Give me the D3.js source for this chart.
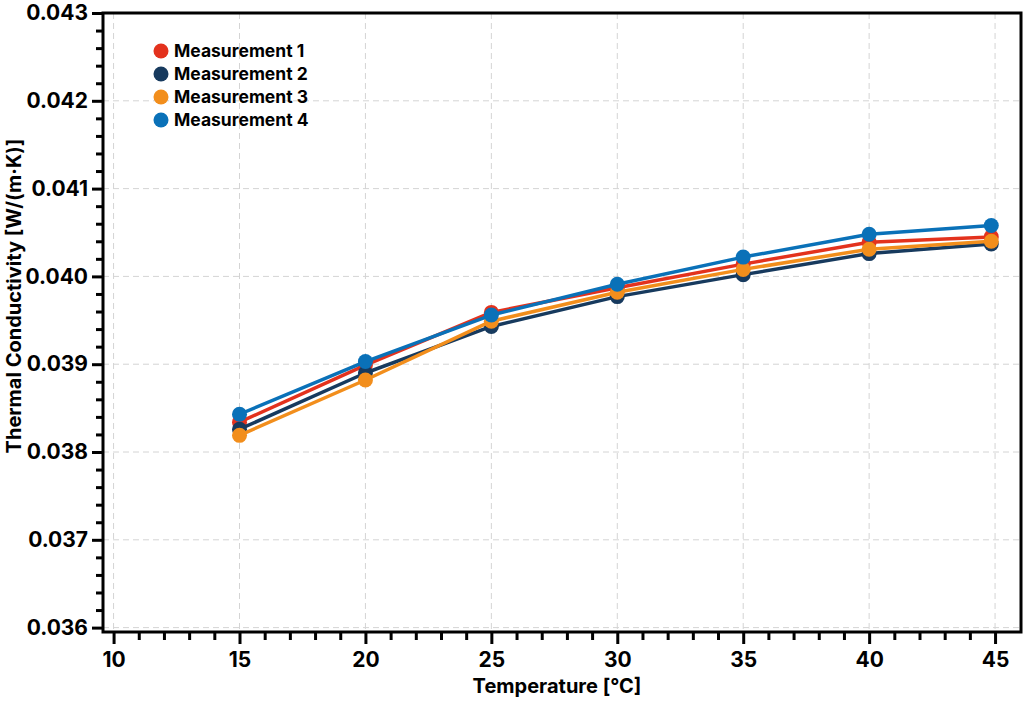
<!DOCTYPE html>
<html>
<head>
<meta charset="utf-8">
<script src="https://cdn.jsdelivr.net/npm/d3@7"></script>
<style>
  html, body { margin: 0; padding: 0; background: #fff; }
  svg { display: block; }
  text { font-family: "Inter", "DejaVu Sans", sans-serif; font-weight: 700; fill: #000; }
</style>
</head>
<body>
<svg id="chart" width="1024" height="703"></svg>
<script>
// ---- data ----
const temperatures = [15, 20, 25, 30, 35, 40, 44.85];
const seriesNames = ["Measurement 1", "Measurement 2", "Measurement 3", "Measurement 4"];
const measurement1 = [0.03834, 0.03899, 0.03959, 0.03987, 0.04014, 0.04039, 0.04045];
const measurement2 = [0.03826, 0.03890, 0.03943, 0.03977, 0.04002, 0.04026, 0.04037];
const measurement3 = [0.03819, 0.03882, 0.03949, 0.03982, 0.04008, 0.04031, 0.04040];
const measurement4 = [0.03843, 0.03903, 0.03956, 0.03991, 0.04022, 0.04048, 0.04058];
const seriesColors = ["#E3321D", "#173A5E", "#F28E1C", "#0A71B8"];
const xTicks = [10, 15, 20, 25, 30, 35, 40, 45];
const yTicks = [0.036, 0.037, 0.038, 0.039, 0.040, 0.041, 0.042, 0.043];
const xLabel = "Temperature [°C]";
const yLabel = "Thermal Conductivity [W/(m·K)]";

const seriesValues = [measurement1, measurement2, measurement3, measurement4];

const svg = d3.select("#chart");
const L = 103, R = 1021, T = 13, B = 632;

const x = d3.scaleLinear().domain([9.58, 46.03]).range([L, R]);
const y = d3.scaleLinear().domain([0.03595, 0.043]).range([B, T]);

// grid
const grid = svg.append("g");
grid.selectAll("line.gx").data(xTicks).join("line")
  .attr("x1", d => x(d)).attr("x2", d => x(d))
  .attr("y1", T).attr("y2", B)
  .attr("stroke", "#d4d4d4").attr("stroke-width", 1).attr("stroke-dasharray", "6,4");
grid.selectAll("line.gy").data(yTicks).join("line")
  .attr("x1", L).attr("x2", R)
  .attr("y1", d => y(d)).attr("y2", d => y(d))
  .attr("stroke", "#d4d4d4").attr("stroke-width", 1).attr("stroke-dasharray", "6,4");

// minor ticks
const xMinor = d3.range(10, 46, 1).filter(v => v % 5 !== 0);
const yMinor = d3.range(0, 36).map(i => 0.036 + i * 0.0002).filter((v, i) => i % 5 !== 0);

const xAxisMinor = d3.axisBottom(x).tickValues(xMinor).tickSize(8).tickFormat("");
const xAxis = d3.axisBottom(x).tickValues(xTicks).tickSize(12).tickPadding(8).tickFormat(d3.format("d"));
const yAxisMinor = d3.axisLeft(y).tickValues(yMinor).tickSize(7).tickFormat("");
const yAxis = d3.axisLeft(y).tickValues(yTicks).tickSize(11).tickPadding(4).tickFormat(d3.format(".3f"));

function styleAxis(g) {
  g.select(".domain").remove();
  g.selectAll(".tick line").attr("stroke", "#000").attr("stroke-width", 3);
  g.selectAll(".tick text").style("font-size", "21px").style("font-family", "Inter, sans-serif").style("font-weight", 700).attr("fill", "#000");
}
svg.append("g").attr("transform", `translate(0,${B})`).call(xAxisMinor).call(styleAxis);
svg.append("g").attr("transform", `translate(0,${B})`).call(xAxis).call(styleAxis);
svg.append("g").attr("transform", `translate(${L},0)`).call(yAxisMinor).call(styleAxis);
svg.append("g").attr("transform", `translate(${L},0)`).call(yAxis).call(styleAxis);

// frame
svg.append("rect").attr("x", L).attr("y", T).attr("width", R - L).attr("height", B - T)
  .attr("fill", "none").attr("stroke", "#000").attr("stroke-width", 3);

// series
const line = d3.line().x((d, i) => x(temperatures[i])).y(d => y(d));
seriesValues.forEach((vals, si) => {
  const g = svg.append("g");
  g.append("path").datum(vals).attr("d", line)
    .attr("fill", "none").attr("stroke", seriesColors[si]).attr("stroke-width", 3.5)
    .attr("stroke-linejoin", "round");
  g.selectAll("circle").data(vals).join("circle")
    .attr("cx", (d, i) => x(temperatures[i])).attr("cy", d => y(d)).attr("r", 7.5)
    .attr("fill", seriesColors[si]);
});

// legend
const lg = svg.append("g");
seriesNames.forEach((name, i) => {
  const yy = 51 + i * 23;
  lg.append("circle").attr("cx", 161).attr("cy", yy).attr("r", 7.5).attr("fill", seriesColors[i]);
  lg.append("text").attr("x", 174).attr("y", yy).attr("dy", "0.35em")
    .style("font-size", "17.5px").text(name);
});

// axis labels
svg.append("text").attr("x", 557).attr("y", 693).attr("text-anchor", "middle")
  .style("font-size", "20px").text(xLabel);
svg.append("text").attr("transform", `translate(21,296) rotate(-90)`)
  .attr("text-anchor", "middle").style("font-size", "20px").text(yLabel);
</script>
</body>
</html>
